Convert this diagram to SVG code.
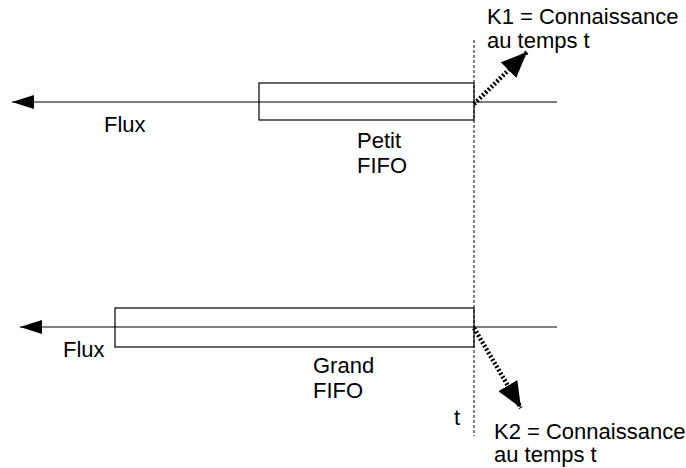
<svg xmlns="http://www.w3.org/2000/svg" width="686" height="468" viewBox="0 0 686 468">
<style>
text{font-family:"Liberation Sans",Arial,sans-serif;font-size:22px;fill:#000}
.ln{stroke:#000;stroke-width:1.2;fill:none}
.box{stroke:#000;stroke-width:1.2;fill:none}
.dot{stroke:#000;stroke-width:4.5;stroke-dasharray:2 2;fill:none}
.vd{stroke:#000;stroke-width:1;stroke-dasharray:3 2;fill:none}
</style>
<defs>
<marker id="ah" markerWidth="22" markerHeight="14" refX="22" refY="7" orient="auto" markerUnits="userSpaceOnUse">
<path d="M0,0 L22,7 L0,14 Z" fill="#000"/>
</marker>
<marker id="ah2" markerWidth="26" markerHeight="22" refX="26" refY="11" orient="auto" markerUnits="userSpaceOnUse">
<path d="M0,0 L26,11 L0,22 Z" fill="#000"/>
</marker>
</defs>
<g id="connectors">
<line class="ln" x1="557" y1="102" x2="12" y2="102" marker-end="url(#ah)"/>
<line class="ln" x1="557" y1="327" x2="20" y2="327" marker-end="url(#ah)"/>
<line class="vd" x1="474" y1="40" x2="474" y2="436"/>
<line class="dot" x1="474" y1="104" x2="527" y2="52" marker-end="url(#ah2)"/>
<line class="dot" x1="474" y1="328" x2="521" y2="408" marker-end="url(#ah2)"/>
</g>
<g id="petit">
<rect class="box" x="259" y="83" width="215" height="37"/>
<text x="357" y="148">Petit</text>
<text x="357" y="173">FIFO</text>
</g>
<g id="grand">
<rect class="box" x="115" y="308" width="359" height="39"/>
<text x="313" y="373">Grand</text>
<text x="313" y="398">FIFO</text>
</g>
<g id="labels">
<text x="104" y="132">Flux</text>
<text x="63" y="357">Flux</text>
<text x="454" y="425">t</text>
<text x="487" y="24">K1 = Connaissance</text>
<text x="487" y="48">au temps t</text>
<text x="494" y="439">K2 = Connaissance</text>
<text x="494" y="462">au temps t</text>
</g>
</svg>
